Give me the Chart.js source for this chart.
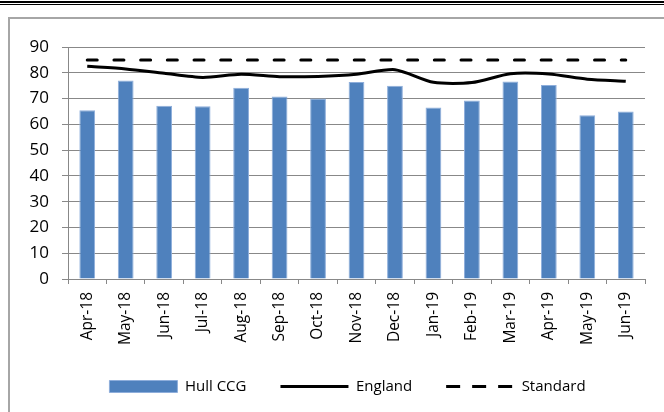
<!DOCTYPE html>
<html>
<head>
<meta charset="utf-8">
<script src="https://cdn.jsdelivr.net/npm/chart.js@4"></script>
<style>
  body { margin: 0; background: #fff; }
  #wrap { position: relative; width: 664px; height: 412px; overflow: hidden; }
  .rule1 { position: absolute; left: 0; top: 1px; width: 664px; height: 2px; background: #000; }
  .rule2 { position: absolute; left: 0; top: 4px; width: 664px; height: 1px; background: #000; }
  .frame { position: absolute; left: 8px; top: 17px; width: 700px; height: 450px; border: 2px solid #a6a6a6; }
  canvas { position: absolute; left: 0; top: 0; }
</style>
</head>
<body>
<div id="wrap">
  <div class="rule1"></div>
  <div class="rule2"></div>
  <div class="frame"></div>
  <canvas id="chart" width="664" height="412"></canvas>
</div>
<script>
// data
const months = ['Apr-18', 'May-18', 'Jun-18', 'Jul-18', 'Aug-18', 'Sep-18', 'Oct-18', 'Nov-18',
  'Dec-18', 'Jan-19', 'Feb-19', 'Mar-19', 'Apr-19', 'May-19', 'Jun-19'];
const hullCCG = [65.5, 77, 67.2, 67, 74.2, 70.8, 70, 76.4, 75, 66.5, 69.2, 76.6, 75.3, 63.5, 65];
const england = [82.5, 81.5, 79.8, 78.2, 79.4, 78.5, 78.6, 79.4, 81.2, 76.3, 76.2, 79.6, 79.5, 77.5, 76.7];
const standard = [85, 85, 85, 85, 85, 85, 85, 85, 85, 85, 85, 85, 85, 85, 85];
const yTicks = { min: 0, max: 90, step: 10 };

const gridGrey = '#888888';
const font = 'Open Sans';

// legend sits a bit right of the canvas centre in the original
const legendShift = {
  id: 'legendShift',
  afterLayout(chart) {
    chart.legend.left += 25;
    chart.legend.right += 25;
  }
};

new Chart(document.getElementById('chart'), {
  type: 'bar',
  data: {
    labels: months,
    datasets: [
      {
        label: 'Hull CCG',
        data: hullCCG,
        backgroundColor: '#4F81BD',
        borderColor: '#8eaedb',
        borderWidth: 1,
        categoryPercentage: 1,
        barPercentage: 0.41,
        pointStyle: 'rect',
        order: 2
      },
      {
        type: 'line',
        label: 'England',
        data: england,
        borderColor: '#000',
        backgroundColor: '#000',
        borderWidth: 3,
        tension: 0.25,
        pointRadius: 0,
        pointStyle: 'line',
        order: 1
      },
      {
        type: 'line',
        label: 'Standard',
        data: standard,
        borderColor: '#000',
        backgroundColor: '#000',
        borderWidth: 3,
        borderDash: [10, 16.7],
        borderCapStyle: 'round',
        pointRadius: 0,
        pointStyle: 'line',
        order: 0
      }
    ]
  },
  options: {
    responsive: false,
    animation: false,
    layout: { padding: { top: 47, right: 19, left: 0, bottom: 8 } },
    plugins: {
      tooltip: { enabled: false },
      legend: {
        position: 'bottom',
        maxHeight: 68,
        labels: {
          usePointStyle: true,
          pointStyleWidth: 68,
          boxHeight: 12,
          padding: 34,
          color: '#000',
          font: { family: font, size: 15 },
          sort: (a, b) => a.datasetIndex - b.datasetIndex,
          generateLabels(chart) {
            const items = Chart.defaults.plugins.legend.labels.generateLabels(chart);
            items.forEach((it) => {
              const ds = chart.data.datasets[it.datasetIndex];
              if (ds.type === 'line') {
                it.strokeStyle = '#000';
                it.lineWidth = 3;
                it.lineCap = 'butt';
                it.lineDash = ds.borderDash ? [14, 12] : [];
              }
            });
            return items;
          }
        }
      }
    },
    scales: {
      x: {
        afterFit: (s) => { s.height = 66; },
        grid: { display: true, drawOnChartArea: false, color: gridGrey, tickLength: 5, offset: true },
        border: { color: gridGrey, width: 1 },
        ticks: {
          autoSkip: false,
          minRotation: 90,
          maxRotation: 90,
          padding: 8,
          color: '#000',
          font: { family: font, size: 15.5 }
        }
      },
      y: {
        min: yTicks.min,
        max: yTicks.max,
        afterFit: (s) => { s.width = 68; },
        grid: { color: gridGrey, tickLength: 6 },
        border: { color: gridGrey, width: 1 },
        ticks: {
          stepSize: yTicks.step,
          padding: 13,
          color: '#000',
          font: { family: font, size: 17 }
        }
      }
    }
  },
  plugins: [legendShift]
});
</script>
</body>
</html>
